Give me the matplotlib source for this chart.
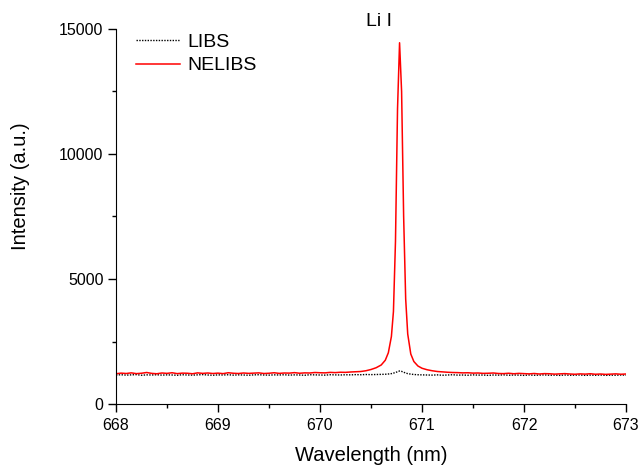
import matplotlib
matplotlib.use("Agg")
import matplotlib.pyplot as plt
from matplotlib.ticker import MultipleLocator

plt.rcParams['font.family'] = ['Liberation Sans', 'DejaVu Sans']

# wavelength grid (nm), denser around the Li I line
wl_left = [668.00, 668.05, 668.10, 668.15, 668.20, 668.25, 668.30, 668.35, 668.40, 668.45,
           668.50, 668.55, 668.60, 668.65, 668.70, 668.75, 668.80, 668.85, 668.90, 668.95,
           669.00, 669.05, 669.10, 669.15, 669.20, 669.25, 669.30, 669.35, 669.40, 669.45,
           669.50, 669.55, 669.60, 669.65, 669.70, 669.75, 669.80, 669.85, 669.90, 669.95,
           670.00, 670.05, 670.10, 670.15, 670.20, 670.25, 670.30, 670.35, 670.40, 670.45,
           670.50]
wl_peak = [670.55, 670.60, 670.64, 670.67, 670.70, 670.72, 670.74, 670.76, 670.78, 670.80,
           670.82, 670.84, 670.86, 670.89, 670.92, 670.96, 671.00]
wl_right = [671.05, 671.10, 671.15, 671.20, 671.25, 671.30, 671.35, 671.40, 671.45, 671.50,
            671.55, 671.60, 671.65, 671.70, 671.75, 671.80, 671.85, 671.90, 671.95, 672.00,
            672.05, 672.10, 672.15, 672.20, 672.25, 672.30, 672.35, 672.40, 672.45, 672.50,
            672.55, 672.60, 672.65, 672.70, 672.75, 672.80, 672.85, 672.90, 672.95, 673.00]
wavelength = wl_left + wl_peak + wl_right

# LIBS intensity (a.u.)
libs_left = [1160, 1170, 1155, 1165, 1175, 1150, 1165, 1160, 1170, 1155,
             1165, 1160, 1150, 1170, 1160, 1155, 1165, 1175, 1160, 1150,
             1165, 1160, 1170, 1155, 1165, 1160, 1150, 1165, 1170, 1160,
             1155, 1165, 1160, 1170, 1155, 1165, 1160, 1150, 1170, 1165,
             1160, 1155, 1170, 1165, 1160, 1170, 1165, 1175, 1170, 1180, 1175]
libs_peak = [1180, 1185, 1190, 1200, 1215, 1235, 1260, 1290, 1320, 1305,
             1270, 1240, 1215, 1195, 1180, 1170, 1165]
libs_right = [1160, 1155, 1165, 1150, 1160, 1170, 1155, 1160, 1150, 1165,
              1155, 1160, 1145, 1160, 1155, 1165, 1150, 1160, 1155, 1145,
              1160, 1150, 1155, 1165, 1150, 1155, 1145, 1160, 1150, 1155,
              1160, 1145, 1155, 1150, 1160, 1145, 1155, 1150, 1160, 1155]
libs = libs_left + libs_peak + libs_right

# NELIBS intensity (a.u.)
nelibs_left = [1210, 1235, 1220, 1245, 1215, 1230, 1260, 1225, 1210, 1240,
               1225, 1250, 1215, 1235, 1230, 1210, 1245, 1225, 1240, 1220,
               1235, 1215, 1250, 1230, 1220, 1240, 1225, 1235, 1245, 1220,
               1230, 1250, 1225, 1240, 1235, 1255, 1230, 1245, 1240, 1260,
               1250, 1245, 1265, 1255, 1270, 1265, 1280, 1290, 1300, 1330, 1380]
nelibs_peak = [1450, 1560, 1750, 2050, 2700, 3700, 6500, 11800, 14450, 12500,
               7500, 4200, 2800, 2000, 1700, 1520, 1430]
nelibs_right = [1370, 1330, 1300, 1285, 1270, 1260, 1255, 1245, 1250, 1235,
                1240, 1225, 1230, 1240, 1220, 1215, 1230, 1210, 1225, 1215,
                1205, 1220, 1200, 1215, 1210, 1195, 1205, 1215, 1200, 1190,
                1205, 1195, 1210, 1190, 1200, 1185, 1195, 1205, 1190, 1200]
nelibs = nelibs_left + nelibs_peak + nelibs_right

fig = plt.figure(figsize=(6.38, 4.65), dpi=100)
ax = fig.add_axes([116/638, 61/465, 510/638, 375/465])

ax.plot(wavelength, libs, color='black', linestyle=(0, (1, 1)), linewidth=1.0, label='LIBS')
ax.plot(wavelength, nelibs, color='red', linewidth=1.1, label='NELIBS')

ax.set_xlim(668, 673)
ax.set_ylim(0, 15000)
ax.xaxis.set_major_locator(MultipleLocator(1))
ax.xaxis.set_minor_locator(MultipleLocator(0.5))
ax.yaxis.set_major_locator(MultipleLocator(5000))
ax.yaxis.set_minor_locator(MultipleLocator(2500))

ax.spines['top'].set_visible(False)
ax.spines['right'].set_visible(False)
ax.tick_params(which='major', direction='out', length=6, width=1, labelsize=11.5)
ax.tick_params(axis='x', which='major', pad=4)
ax.tick_params(axis='y', which='major', pad=3)
ax.tick_params(which='minor', direction='out', length=3, width=1)

ax.set_xlabel('Wavelength (nm)', fontsize=14.5)
ax.set_ylabel('Intensity (a.u.)', fontsize=14.5)
ax.xaxis.set_label_coords(0.5, -0.112)
ax.yaxis.set_label_coords(-0.169, 0.58)

ax.text(670.58, 15280, 'Li I', fontsize=14, ha='center', va='center')

ax.legend(loc='upper left', bbox_to_anchor=(0.004, 1.035), frameon=False,
          fontsize=14, handlelength=2.3, handletextpad=0.36, labelspacing=0.3)

fig.savefig('out.png', dpi=100)
